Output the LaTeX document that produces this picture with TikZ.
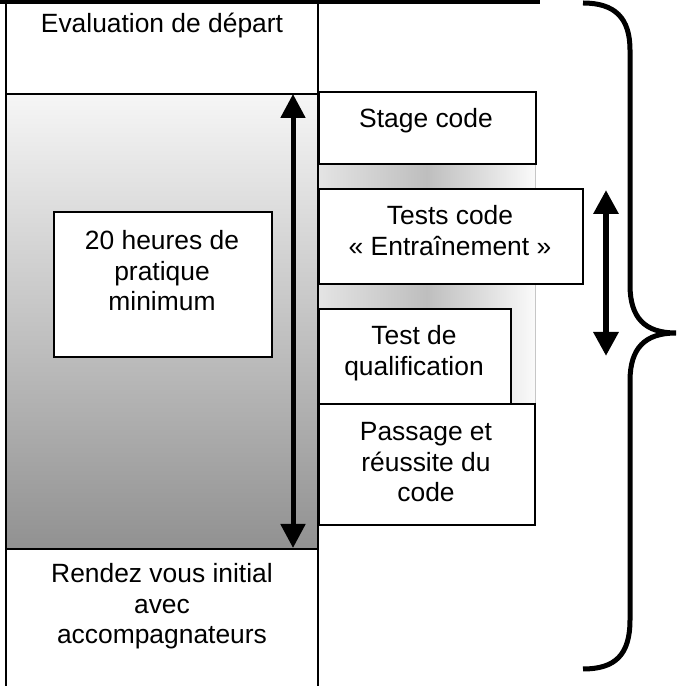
\documentclass[tikz,border=0pt]{standalone}
\usepackage{fontspec}
\setmainfont{Liberation Sans}
\usetikzlibrary{arrows.meta}
\definecolor{gtop}{RGB}{246,246,246}
\definecolor{gbot}{RGB}{145,145,145}
\definecolor{sleft}{RGB}{228,228,228}
\definecolor{smid}{RGB}{190,190,190}
\definecolor{sright}{RGB}{250,250,250}
\newcommand{\mylines}[1]{\begin{tabular}[t]{@{}c@{}}#1\end{tabular}}
\begin{document}
\begin{tikzpicture}[x=1pt,y=1pt,
  txt/.style={anchor=base, inner sep=0pt, font=\fontsize{26.4}{30.5}\selectfont},
  boxn/.style={draw=black, line width=1.5pt, fill=white, rectangle, inner sep=0pt, anchor=south west},
  rule/.style={draw=black, line width=1.6pt},
  dbl/.style={line width=#1, {Triangle[width=24pt,length=24pt]}-{Triangle[width=24pt,length=24pt]}},
  brace/.style={draw=black, line width=5pt}]
\useasboundingbox (0,0) rectangle (679,686);
% left column gradient
\fill[top color=gtop, bottom color=gbot] (6,137) rectangle (318,592);
% right column backing with horizontal gradient
\fill[left color=sleft, right color=sright, middle color=smid] (318,281) rectangle (535,593);
\draw[draw=gray!45, line width=1pt] (535,281) -- (535,593);
% boxes
\node[boxn, minimum width=218pt, minimum height=145pt] (hbox) at (53,328) {};
\node[boxn, minimum width=217pt, minimum height=72pt] (sbox) at (318,521) {};
\node[boxn, minimum width=264pt, minimum height=95pt] (tbox) at (318,401) {};
\node[boxn, minimum width=192pt, minimum height=95pt] (qbox) at (318,281) {};
\node[boxn, minimum width=216pt, minimum height=121pt] (pbox) at (318,160) {};
% table rules
\draw[rule] (6,0) -- (6,686);
\draw[rule] (318,0) -- (318,686);
\draw[rule] (6,592) -- (318,592);
\draw[rule] (6,137) -- (318,137);
\draw[draw=black, line width=4pt] (0,684) -- (540,684);
% texts
\node[txt] (eval) at (162,653) {\mylines{Evaluation de départ}};
\node[txt] (stage) at (426,558) {\mylines{Stage code}};
\node[txt] (tests) at (450,461) {\mylines{Tests code\\« Entraînement »}};
\node[txt] (heures) at (162,436) {\mylines{20 heures de\\pratique\\minimum}};
\node[txt] (qualif) at (414,341) {\mylines{Test de\\qualification}};
\node[txt] (passage) at (426,245) {\mylines{Passage et\\réussite du\\code}};
\node[txt] (rdv) at (162,103) {\mylines{Rendez vous initial\\avec\\accompagnateurs}};
% arrows
\coordinate (la1) at (293,592);
\coordinate (la2) at (293,138);
\draw[dbl=5pt] (la1) -- (la2);
\coordinate (ra1) at (606,496);
\coordinate (ra2) at (606,330);
\draw[dbl=6pt] (ra1) -- (ra2);
% brace
\draw[brace, line cap=butt] (583,683) .. controls (615,683) and (630,668) .. (630,636)
  -- (630,401) .. controls (630,368) and (645,353) .. (676,353)
  .. controls (645,353) and (630,338) .. (630,305)
  -- (630,66) .. controls (630,31) and (615,17) .. (583,17);
\end{tikzpicture}
\end{document}
